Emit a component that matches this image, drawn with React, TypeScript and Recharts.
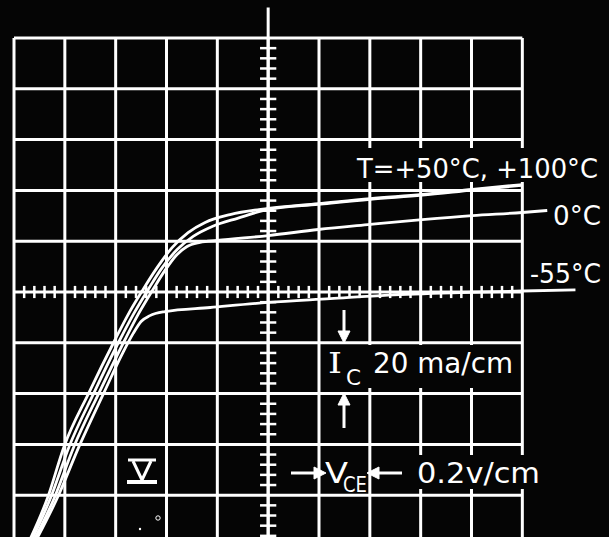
import { LineChart, Line, XAxis, YAxis, ReferenceLine } from "recharts"

// Collector characteristic, V_CE in volts (0.2 v/cm), I_C in mA (20 ma/cm)
const vce100 = [0.051, 0.134, 0.197, 0.295, 0.398, 0.449, 0.508, 0.563, 0.622, 0.685, 0.752, 0.85, 1.0, 1.197, 1.402, 1.606, 1.803, 2.0]
const ic100 = [0, 19.5, 39.2, 60.4, 81.3, 91.1, 101.0, 109.6, 117.5, 123.4, 127.4, 130.5, 132.9, 134.8, 136.8, 138.4, 140.4, 142.3]

const vce50 = [0.059, 0.146, 0.217, 0.315, 0.417, 0.469, 0.528, 0.583, 0.642, 0.705, 0.78, 0.882, 1.0, 1.197, 1.402, 1.606, 1.803, 2.0]
const ic50 = [0, 19.5, 39.2, 60.4, 81.3, 91.1, 101.0, 109.6, 116.7, 121.9, 125.8, 129.1, 132.5, 134.5, 136.5, 138.1, 140.1, 142.0]

const vce0 = [0.067, 0.161, 0.236, 0.335, 0.437, 0.488, 0.547, 0.594, 0.638, 0.681, 0.732, 0.799, 1.0, 1.197, 1.402, 1.606, 1.803, 2.0, 2.098]
const ic0 = [0, 19.5, 39.2, 60.4, 81.3, 91.1, 101.0, 108.5, 114.4, 117.9, 119.5, 120.3, 122.2, 124.6, 126.6, 128.5, 130.1, 131.3, 132.1]

const vceM55 = [0.075, 0.173, 0.256, 0.354, 0.425, 0.469, 0.5, 0.535, 0.594, 0.772, 1.0, 1.244, 1.472, 1.756, 2.0, 2.209]
const icM55 = [0, 19.5, 39.2, 60.4, 75.4, 83.7, 88.4, 90.7, 92.3, 93.9, 95.9, 97.4, 98.8, 99.8, 100.4, 100.8]

// graticule: 10 x 10 cm
const gridV = [0, 0.2, 0.4, 0.6, 0.8, 1.0, 1.2, 1.4, 1.6, 1.8, 2.0]
const gridI = [0, 20, 40, 60, 80, 100, 120, 140, 160, 180, 200]
const centerV = 1.0
const centerI = 100

const toPoints = (v: number[], i: number[]) => v.map((x, k) => ({ v: x, i: i[k] }))

const curves = [
  { name: "+100°C", data: toPoints(vce100, ic100) },
  { name: "+50°C", data: toPoints(vce50, ic50) },
  { name: "0°C", data: toPoints(vce0, ic0) },
  { name: "-55°C", data: toPoints(vceM55, icM55) },
]

// minor divisions (5 per cm) on the centre axes
const minorV: number[] = []
for (let k = 1; k < 50; k++) if (k % 5 !== 0) minorV.push(+(k * 0.04).toFixed(2))
const minorI: number[] = []
for (let k = 1; k < 50; k++) if (k % 5 !== 0) minorI.push(k * 4)

const W = "#ffffff"
const BG = "#050505"
const font = "'DejaVu Sans', sans-serif"

export default function App() {
  return (
    <div style={{ position: "absolute", left: 0, top: 0, width: 609, height: 537, overflow: "hidden", background: BG }}>
      <LineChart width={624} height={556} margin={{ top: 38, right: 0, left: 14, bottom: 10 }}>
        <XAxis type="number" dataKey="v" domain={[0, 2.4]} hide allowDataOverflow />
        <YAxis type="number" dataKey="i" domain={[0, 200]} hide />

        {gridV.map((v) => (
          <ReferenceLine key={"gv" + v} segment={[{ x: v, y: 0 }, { x: v, y: 200 }]} stroke={W} strokeWidth={3} ifOverflow="visible" />
        ))}
        {gridI.map((i) => (
          <ReferenceLine key={"gi" + i} segment={[{ x: 0, y: i }, { x: 2.0, y: i }]} stroke={W} strokeWidth={3} ifOverflow="visible" />
        ))}
        <ReferenceLine segment={[{ x: centerV, y: -10 }, { x: centerV, y: 212 }]} stroke={W} strokeWidth={3} ifOverflow="visible" />
        {minorV.map((v) => (
          <ReferenceLine key={"mv" + v} segment={[{ x: v, y: centerI - 2.4 }, { x: v, y: centerI + 2.4 }]} stroke={W} strokeWidth={2.5} ifOverflow="visible" />
        ))}
        {minorI.map((i) => (
          <ReferenceLine key={"mi" + i} segment={[{ x: centerV - 0.032, y: i }, { x: centerV + 0.032, y: i }]} stroke={W} strokeWidth={2.5} ifOverflow="visible" />
        ))}

        {curves.map((c) => (
          <Line
            key={c.name}
            data={c.data}
            dataKey="i"
            type="monotone"
            stroke={W}
            strokeWidth={2.8}
            dot={false}
            isAnimationActive={false}
          />
        ))}
      </LineChart>

      {/* annotations, on black label boxes like the original photo */}
      <svg width={609} height={537} style={{ position: "absolute", left: 0, top: 0, pointerEvents: "none" }}>
        <g fill={BG}>
          <rect x={354} y={148} width={255} height={34} />
          <rect x={325} y={345} width={191} height={43} />
          <rect x={373} y={455} width={172} height={34} />
        </g>

        <g fill={W} fontFamily={font}>
          <text x={357} y={178} fontSize={26} textLength={241} lengthAdjust="spacingAndGlyphs">T=+50°C, +100°C</text>
          <text x={553} y={225} fontSize={27} textLength={48} lengthAdjust="spacingAndGlyphs">0°C</text>
          <text x={530} y={283} fontSize={26} textLength={71} lengthAdjust="spacingAndGlyphs">-55°C</text>

          <text x={328} y={373} fontSize={28} fontFamily="'DejaVu Serif', serif" textLength={14} lengthAdjust="spacingAndGlyphs">I</text>
          <text x={346} y={385} fontSize={21} textLength={15} lengthAdjust="spacingAndGlyphs">C</text>
          <text x={373} y={373} fontSize={28} textLength={140} lengthAdjust="spacingAndGlyphs">20 ma/cm</text>

          <text x={325} y={483} fontSize={28} textLength={23} lengthAdjust="spacingAndGlyphs">V</text>
          <text x={343} y={492} fontSize={21} textLength={24} lengthAdjust="spacingAndGlyphs">CE</text>
          <text x={417} y={483} fontSize={28} textLength={123} lengthAdjust="spacingAndGlyphs">0.2v/cm</text>
        </g>

        <g stroke={W} strokeWidth={3} fill={W}>
          <line x1={344} y1={310} x2={344} y2={334} />
          <polygon points="338,331 350,331 344,343" strokeWidth={1} />
          <line x1={344} y1={428} x2={344} y2={402} />
          <polygon points="338,405 350,405 344,393" strokeWidth={1} />
          <line x1={291} y1={473} x2={317} y2={473} />
          <polygon points="314,467 314,479 326,473" strokeWidth={1} />
          <line x1={402} y1={473} x2={376} y2={473} />
          <polygon points="379,467 379,479 367,473" strokeWidth={1} />
        </g>

        <g stroke={W} fill="none">
          <line x1={128} y1={460} x2={156} y2={460} strokeWidth={3} />
          <polyline points="133,461 142,480 151,461" strokeWidth={3} />
          <line x1={127} y1={482} x2={157} y2={482} strokeWidth={4} />
          <circle cx={158} cy={518} r={2.2} strokeWidth={1} />
          <circle cx={140} cy={529} r={1.2} fill={W} strokeWidth={0} />
        </g>
      </svg>
    </div>
  )
}
